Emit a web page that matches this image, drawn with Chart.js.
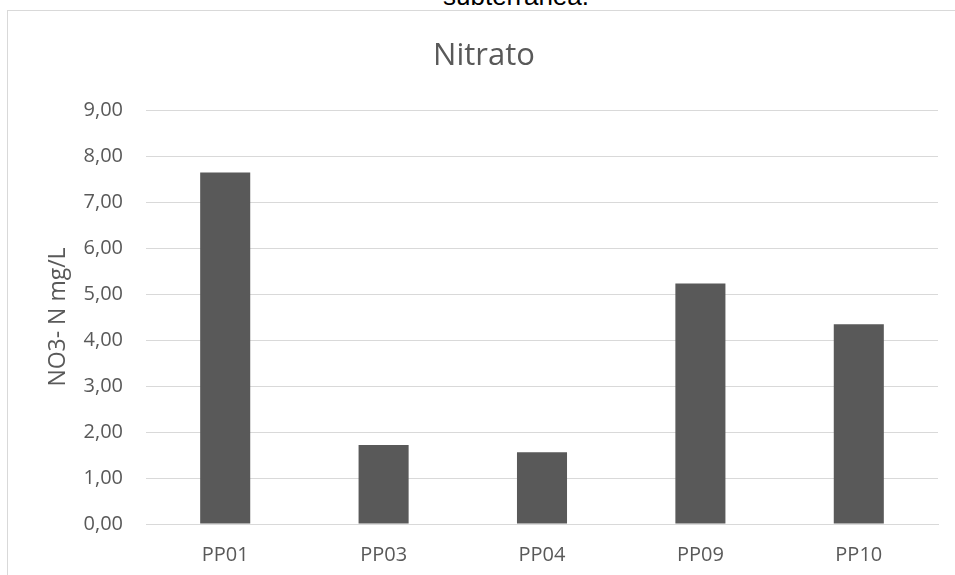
<!DOCTYPE html>
<html>
<head>
<meta charset="utf-8">
<script src="https://cdn.jsdelivr.net/npm/chart.js@4.4.1/dist/chart.umd.min.js"></script>
<style>
  html, body { margin: 0; padding: 0; background: #ffffff; overflow: hidden; }
  #wrap { position: relative; width: 955px; height: 575px; overflow: hidden; }
  #frame { position: absolute; left: 7px; top: 10px; width: 1000px; height: 700px; border: 1.5px solid #d9d9d9; box-sizing: border-box; }
  #cap { position: absolute; left: 443px; top: -17px; font-family: "Liberation Sans", Arial, sans-serif; font-size: 26px; line-height: 26px; color: #000; white-space: nowrap; }
  #c { position: absolute; left: 0; top: 0; }
</style>
</head>
<body>
<div id="wrap">
  <div id="frame"></div>
  <div id="cap">subterránea.</div>
  <canvas id="c" width="955" height="575"></canvas>
</div>
<script>
const categories = ["PP01", "PP03", "PP04", "PP09", "PP10"];
const nitrateValues = [7.64, 1.72, 1.56, 5.23, 4.34];
const yTicks = [0, 1, 2, 3, 4, 5, 6, 7, 8, 9];
const chartTitle = "Nitrato";
const yAxisTitle = "NO3- N mg/L";

const FONT = "'Open Sans', 'Noto Sans', sans-serif";
const TXT = "#595959";
const GRID = "#d9d9d9";

new Chart(document.getElementById("c"), {
  type: "bar",
  data: {
    labels: categories,
    datasets: [{
      label: chartTitle,
      data: nitrateValues,
      backgroundColor: "#595959",
      borderWidth: 0,
      barPercentage: 0.316,
      categoryPercentage: 1.0
    }]
  },
  options: {
    responsive: false,
    animation: false,
    devicePixelRatio: 1,
    layout: { padding: { left: 30, right: 17, top: 20, bottom: 0 } },
    plugins: {
      legend: { display: false },
      tooltip: { enabled: false },
      title: {
        display: true,
        text: chartTitle,
        color: TXT,
        font: { family: FONT, size: 31, weight: "normal" },
        padding: { top: 18, bottom: 34.8 }
      }
    },
    scales: {
      x: {
        grid: { display: false, drawTicks: false },
        border: { display: true, color: GRID, width: 1 },
        ticks: { color: TXT, font: { family: FONT, size: 20 }, padding: 19 },
        afterFit: s => { s.height = 51; }
      },
      y: {
        min: 0,
        max: 9,
        afterBuildTicks: s => { s.ticks = yTicks.map(v => ({ value: v })); },
        grid: { color: GRID, lineWidth: 1, drawTicks: false },
        border: { display: false },
        ticks: {
          color: TXT,
          font: { family: FONT, size: 20 },
          padding: 23,
          callback: v => Number(v).toFixed(2).replace(".", ",")
        },
        title: {
          display: true,
          text: yAxisTitle,
          color: TXT,
          font: { family: FONT, size: 23, weight: "normal" },
          padding: { top: 14.7, bottom: 0 }
        },
        afterFit: s => { s.width = 116; }
      }
    }
  }
});
</script>
</body>
</html>
